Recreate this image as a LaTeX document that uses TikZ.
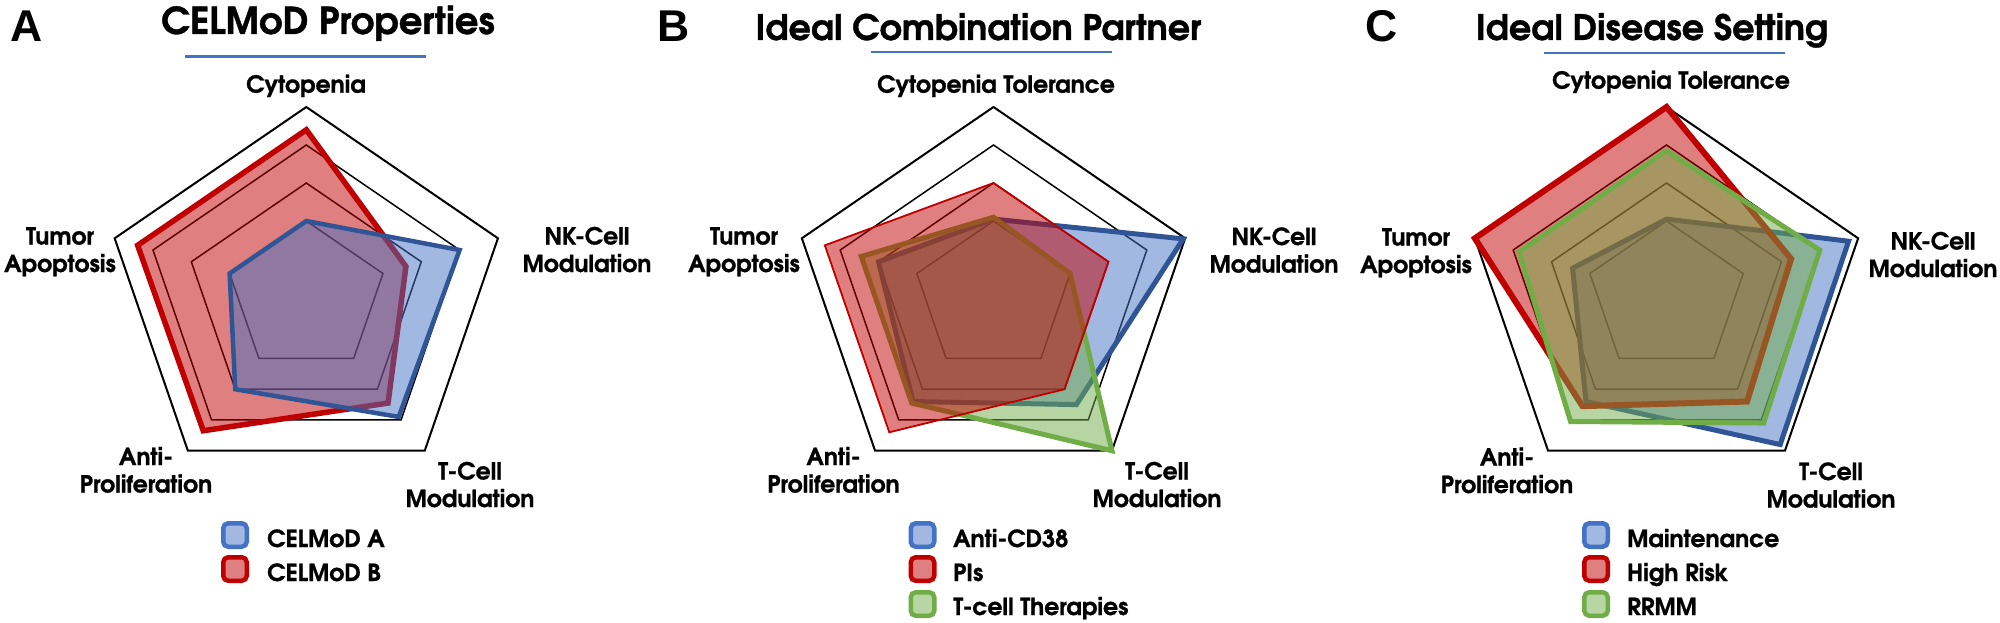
\documentclass[tikz,border=0pt]{standalone}
\usepackage{fontspec}
\setmainfont{texgyreadventor}[Extension=.otf, UprightFont=*-regular, BoldFont=*-bold, ItalicFont=*-italic, BoldItalicFont=*-bolditalic, BoldFeatures={FakeBold=1}]
\newfontfamily\letterfont{Liberation Sans}
\definecolor{blueFill}{HTML}{4472C4}
\definecolor{blueEdge}{HTML}{2F5597}
\definecolor{redC}{HTML}{C00000}
\definecolor{greenC}{HTML}{70AD47}
\newcommand\radarshape[6]{\draw[#1] (90:#2) -- (18:#3) -- (-54:#4) -- (-126:#5) -- (162:#6) -- cycle;}
\newcommand\radargrid{%
  \foreach \rr in {0.4,0.6,0.8}{\draw[ringline] (90:\rr) -- (18:\rr) -- (-54:\rr) -- (-126:\rr) -- (162:\rr) -- cycle;}
  \draw[outerring] (90:1) -- (18:1) -- (-54:1) -- (-126:1) -- (162:1) -- cycle;}
\tikzset{
  ringline/.style={draw=black, line width=1.5pt},
  outerring/.style={draw=black, line width=2pt},
  bluepoly/.style={draw=blueEdge, fill=blueFill, fill opacity=0.5, line width=#1},
  redpoly/.style={draw=redC, fill=redC, fill opacity=0.5, line width=#1},
  greenpoly/.style={draw=greenC, fill=greenC, fill opacity=0.5, line width=#1},
  axislabel/.style={font=\bfseries\fontsize{23.5}{27.5}\selectfont, align=center, inner sep=0pt, anchor=base},
  paneltitle/.style={font=\bfseries\fontsize{35}{40}\selectfont, inner sep=0pt, anchor=base},
  panelletter/.style={font=\letterfont\bfseries\fontsize{44.5}{50}\selectfont, inner sep=0pt, anchor=base},
  uline/.style={draw=blueFill, line width=2.5pt},
  legbox/.style={rectangle, rounded corners=5pt, line width=4.5pt, minimum width=23.5pt, minimum height=23.5pt, inner sep=0pt},
  legtext/.style={font=\bfseries\fontsize{23.5}{27}\selectfont, inner sep=0pt, anchor=base west},
}
\begin{document}
\begin{tikzpicture}[x=1pt,y=-1pt]
\useasboundingbox (0,0) rectangle (2000,623);
\fill[white] (0,0) rectangle (2000,623);

% ---------------- Panel A ----------------
\node[panelletter] (letA) at (26.5,42) {A};
\node[paneltitle, font=\bfseries\fontsize{37}{42}\selectfont] (titA) at (328,34) {CELMoD Properties};
\draw[uline] (185,56.7) -- (426,56.7);
\begin{scope}[shift={(306.3pt,-297pt)}, x=201.5pt, y=190pt]
  \radargrid
  \radarshape{redpoly=5.5pt}{0.88}{0.52}{0.69}{0.87}{0.88}
  \radarshape{bluepoly=4.5pt}{0.40}{0.80}{0.78}{0.60}{0.40}
\end{scope}
\node[axislabel] (aCyt) at (306,92.7) {Cytopenia};
\node[axislabel] (aTum) at (60,272) {Tumor\\Apoptosis};
\node[axislabel] (aNK) at (587,272) {NK-Cell\\Modulation};
\node[axislabel] (aAnti) at (146,492.5) {Anti-\\Proliferation};
\node[axislabel] (aT) at (470,507) {T-Cell\\Modulation};
\node[legbox, draw=blueFill, fill=blueFill!50!white] (aLeg1) at (235,535) {};
\node[legbox, draw=redC, fill=redC!50!white] (aLeg2) at (235,569) {};
\node[legtext] (aLegT1) at (267,547) {CELMoD A};
\node[legtext] (aLegT2) at (267,581) {CELMoD B};

% ---------------- Panel B ----------------
\node[panelletter] (letB) at (674,42) {B};
\node[paneltitle] (titB) at (978.5,40) {Ideal Combination Partner};
\draw[uline] (871,52) -- (1112,52);
\begin{scope}[shift={(993.5pt,-297pt)}, x=201.5pt, y=190pt]
  \radargrid
  \radarshape{bluepoly=5pt}{0.41}{0.99}{0.70}{0.68}{0.60}
  \radarshape{greenpoly=5pt}{0.42}{0.40}{1.0}{0.69}{0.69}
  \radarshape{redpoly=1.8pt}{0.60}{0.60}{0.60}{0.88}{0.88}
\end{scope}
\node[axislabel] (bCyt) at (996,92.7) {Cytopenia Tolerance};
\node[axislabel] (bTum) at (744,272) {Tumor\\Apoptosis};
\node[axislabel] (bNK) at (1274,272.5) {NK-Cell\\Modulation};
\node[axislabel] (bAnti) at (833.5,492.5) {Anti-\\Proliferation};
\node[axislabel] (bT) at (1157,507) {T-Cell\\Modulation};
\node[legbox, draw=blueFill, fill=blueFill!50!white] (bLeg1) at (922.5,535) {};
\node[legbox, draw=redC, fill=redC!50!white] (bLeg2) at (922.5,569) {};
\node[legbox, draw=greenC, fill=greenC!50!white] (bLeg3) at (922.5,604) {};
\node[legtext] (bLegT1) at (953,547) {Anti-CD38};
\node[legtext] (bLegT2) at (953,581) {PIs};
\node[legtext] (bLegT3) at (953,615) {T-cell Therapies};

% ---------------- Panel C ----------------
\node[panelletter] (letC) at (1381.5,42) {C};
\node[paneltitle] (titC) at (1652,40) {Ideal Disease Setting};
\draw[uline] (1544,53) -- (1785,53);
\begin{scope}[shift={(1666.5pt,-297pt)}, x=201.5pt, y=190pt]
  \radargrid
  \radarshape{bluepoly=5pt}{0.41}{0.95}{0.96}{0.68}{0.49}
  \radarshape{redpoly=6pt}{1.0}{0.65}{0.68}{0.71}{1.0}
  \radarshape{greenpoly=5pt}{0.77}{0.80}{0.82}{0.81}{0.77}
\end{scope}
\node[axislabel] (cCyt) at (1671,88.7) {Cytopenia Tolerance};
\node[axislabel] (cTum) at (1416,273) {Tumor\\Apoptosis};
\node[axislabel] (cNK) at (1933,277) {NK-Cell\\Modulation};
\node[axislabel] (cAnti) at (1507,493) {Anti-\\Proliferation};
\node[axislabel] (cT) at (1831,507.5) {T-Cell\\Modulation};
\node[legbox, draw=blueFill, fill=blueFill!50!white] (cLeg1) at (1596,535) {};
\node[legbox, draw=redC, fill=redC!50!white] (cLeg2) at (1596,569) {};
\node[legbox, draw=greenC, fill=greenC!50!white] (cLeg3) at (1596,604) {};
\node[legtext] (cLegT1) at (1627,547) {Maintenance};
\node[legtext] (cLegT2) at (1627,581) {High Risk};
\node[legtext] (cLegT3) at (1627,615) {RRMM};
\end{tikzpicture}
\end{document}
